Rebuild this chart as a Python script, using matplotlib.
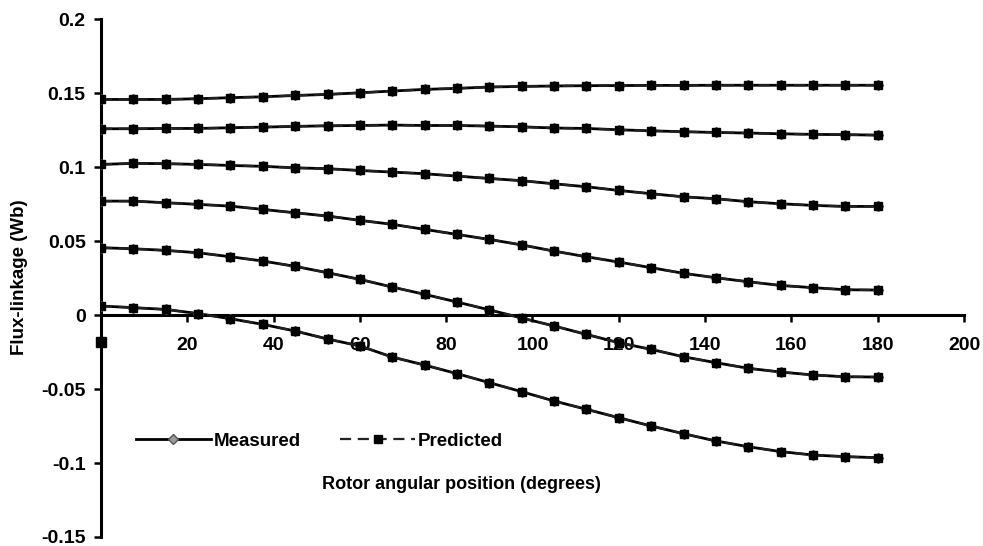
import matplotlib
matplotlib.use('Agg')
import matplotlib.pyplot as plt
from matplotlib.lines import Line2D

plt.rcParams['font.family'] = ['Liberation Sans', 'DejaVu Sans']

# rotor angle in degrees, 7.5 deg steps
angle = [0, 7.5, 15, 22.5, 30, 37.5, 45, 52.5, 60, 67.5, 75, 82.5, 90,
         97.5, 105, 112.5, 120, 127.5, 135, 142.5, 150, 157.5, 165, 172.5, 180]

# flux-linkage curves (Wb), top to bottom
curve1 = [0.1457, 0.1457, 0.1457, 0.1462, 0.1469, 0.1475, 0.1484, 0.1491, 0.1502,
          0.1514, 0.1525, 0.1532, 0.1541, 0.1545, 0.1548, 0.1550, 0.1551, 0.1552,
          0.1552, 0.1553, 0.1553, 0.1553, 0.1553, 0.1553, 0.1553]
curve2 = [0.1259, 0.1259, 0.1261, 0.1261, 0.1266, 0.1270, 0.1275, 0.1279, 0.1281,
          0.1284, 0.1281, 0.1281, 0.1277, 0.1272, 0.1264, 0.1261, 0.1252, 0.1245,
          0.1239, 0.1234, 0.1230, 0.1225, 0.1221, 0.1219, 0.1216]
curve3 = [0.1018, 0.1025, 0.1023, 0.1018, 0.1011, 0.1005, 0.0995, 0.0989, 0.0977,
          0.0966, 0.0955, 0.0939, 0.0923, 0.0908, 0.0887, 0.0867, 0.0842, 0.0820,
          0.0799, 0.0786, 0.0766, 0.0752, 0.0741, 0.0734, 0.0734]
curve4 = [0.0770, 0.0770, 0.0759, 0.0748, 0.0736, 0.0714, 0.0691, 0.0669, 0.0640,
          0.0613, 0.0579, 0.0545, 0.0511, 0.0474, 0.0432, 0.0394, 0.0358, 0.0320,
          0.0282, 0.0252, 0.0225, 0.0200, 0.0185, 0.0171, 0.0169]
curve5 = [0.0455, 0.0448, 0.0437, 0.0421, 0.0394, 0.0365, 0.0329, 0.0286, 0.0241,
          0.0189, 0.0140, 0.0088, 0.0035, -0.0020, -0.0074, -0.0131, -0.0187, -0.0232,
          -0.0282, -0.0322, -0.0360, -0.0385, -0.0405, -0.0417, -0.0419]
curve6 = [0.0061, 0.0050, 0.0038, 0.0010, -0.0025, -0.0063, -0.0108, -0.0162, -0.0209,
          -0.0284, -0.0338, -0.0396, -0.0457, -0.0518, -0.0581, -0.0637, -0.0694, -0.0750,
          -0.0802, -0.0851, -0.0890, -0.0923, -0.0946, -0.0957, -0.0964]
curves = [curve1, curve2, curve3, curve4, curve5, curve6]

# lone point sitting on the y axis below zero
stray_x = [0]
stray_y = [-0.0182]

fig = plt.figure(figsize=(9.83, 5.46), dpi=100)
ax = fig.add_axes([0.1027, 0.0165, 0.878, 0.9485])

for c in curves:
    # measured
    ax.plot(angle, c, color='black', lw=2.0, marker='D', ms=5,
            mfc='#9a9a9a', mec='#555555', zorder=3)
    # predicted
    ax.plot(angle, c, color='#222222', lw=1.6, ls=(0, (5, 3)), marker='s', ms=6,
            mfc='black', mec='black', zorder=4)
ax.plot(stray_x, stray_y, marker='s', ms=7, color='black', ls='none',
        clip_on=False, zorder=5)

ax.set_xlim(0, 200)
ax.set_ylim(-0.15, 0.2)
ax.spines['top'].set_visible(False)
ax.spines['right'].set_visible(False)
ax.spines['bottom'].set_position(('data', 0))
ax.spines['left'].set_linewidth(2.2)
ax.spines['bottom'].set_linewidth(2.2)

ax.set_xticks([20, 40, 60, 80, 100, 120, 140, 160, 180, 200])
ax.set_yticks([-0.15, -0.1, -0.05, 0, 0.05, 0.1, 0.15, 0.2])
ax.set_yticklabels(['-0.15', '-0.1', '-0.05', '0', '0.05', '0.1', '0.15', '0.2'])
ax.tick_params(axis='both', direction='out', length=5, width=1.8, labelsize=14)
ax.tick_params(axis='x', pad=11)
ax.tick_params(axis='y', pad=6)
for lab in ax.get_xticklabels() + ax.get_yticklabels():
    lab.set_fontweight('bold')

fig.text(0.02, 0.493, 'Flux-linkage (Wb)', rotation=90, ha='center', va='center',
         fontsize=13.5, fontweight='bold')
fig.text(0.4695, 0.112, 'Rotor angular position (degrees)',
         ha='center', va='center', fontsize=13, fontweight='bold')

h_meas = Line2D([], [], color='black', lw=2.0, marker='D', ms=5,
                mfc='#9a9a9a', mec='#555555')
h_pred = Line2D([], [], color='#222222', lw=1.6, ls=(0, (5, 3)), marker='s', ms=6,
                mfc='black', mec='black')
fig.legend([h_meas, h_pred], ['Measured', 'Predicted'], ncol=2, frameon=False,
           loc='center', bbox_to_anchor=(0.325, 0.192),
           prop={'size': 13.5, 'weight': 'bold'},
           handlelength=4.0, columnspacing=2.1, handletextpad=0.15)

plt.savefig('out.png', dpi=100)
